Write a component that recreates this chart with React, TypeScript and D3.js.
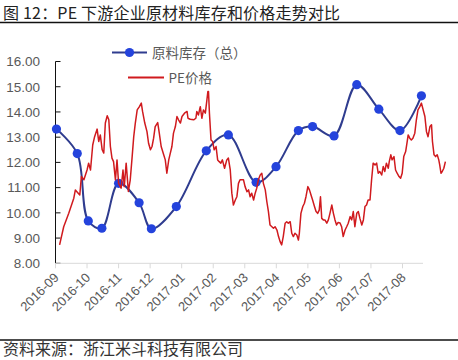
import React from "react";
import * as d3 from "d3";

const monthLabels = ["2016-09","2016-10","2016-11","2016-12","2017-01","2017-02","2017-03","2017-04","2017-05","2017-06","2017-07","2017-08"];
const yTicks = [8, 9, 10, 11, 12, 13, 14, 15, 16];

// inventory (blue): position in months since 2016-09, value
const invPos = [0.03, 0.69, 1.04, 1.47, 2.0, 2.65, 3.04, 3.83, 4.78, 5.48, 6.36, 6.99, 7.7, 8.15, 8.83, 9.55, 10.25, 10.92, 11.6];
const invVal = [13.32, 12.35, 9.68, 9.39, 11.17, 10.40, 9.37, 10.25, 12.46, 13.09, 11.21, 11.83, 13.26, 13.42, 13.05, 15.08, 14.11, 13.26, 14.64];

// PE price (red): position in months, value
const pePos = [0.13,0.26,0.42,0.58,0.63,0.72,0.77,0.82,0.90,1.00,1.05,1.11,1.18,1.24,1.32,1.37,1.42,1.48,1.53,1.58,1.64,1.69,1.74,1.79,1.84,1.90,1.95,2.00,2.08,2.14,2.18,2.24,2.31,2.37,2.43,2.48,2.53,2.59,2.66,2.72,2.76,2.83,2.90,2.95,3.01,3.06,3.11,3.16,3.24,3.29,3.35,3.43,3.48,3.53,3.59,3.64,3.69,3.74,3.80,3.85,3.90,3.96,4.01,4.09,4.17,4.20,4.27,4.38,4.45,4.48,4.53,4.59,4.64,4.69,4.75,4.80,4.83,4.85,4.88,4.93,4.98,5.03,5.09,5.14,5.19,5.24,5.29,5.36,5.43,5.48,5.54,5.59,5.64,5.70,5.75,5.80,5.85,5.96,6.01,6.07,6.12,6.17,6.22,6.28,6.33,6.38,6.43,6.49,6.54,6.59,6.65,6.70,6.75,6.80,6.86,6.91,6.96,7.02,7.07,7.12,7.17,7.22,7.28,7.33,7.38,7.44,7.49,7.54,7.59,7.65,7.70,7.73,7.78,7.84,7.89,7.94,8.00,8.05,8.10,8.15,8.21,8.26,8.31,8.36,8.40,8.44,8.49,8.54,8.60,8.65,8.70,8.76,8.81,8.86,8.91,8.96,9.02,9.07,9.12,9.18,9.23,9.28,9.34,9.39,9.44,9.49,9.55,9.60,9.65,9.71,9.76,9.81,9.86,9.91,9.97,10.02,10.07,10.13,10.18,10.23,10.28,10.34,10.39,10.44,10.49,10.55,10.58,10.63,10.67,10.73,10.78,10.83,10.89,10.94,10.99,11.04,11.10,11.15,11.18,11.23,11.28,11.33,11.39,11.44,11.49,11.55,11.60,11.71,11.76,11.81,11.87,11.92,11.95,12.00,12.05,12.10,12.15,12.18,12.22,12.26,12.31,12.36];
const peVal = [8.73,9.45,9.98,10.58,10.91,10.78,10.71,11.44,11.31,11.7,11.97,11.7,12.69,13.02,13.32,12.83,13.09,12.5,12.37,13.56,13.85,13.69,12.63,12.17,12.03,11.31,12.1,11.17,10.98,11.7,11.04,11.97,10.85,11.31,12.23,13.02,13.56,14.08,14.21,14.35,14.02,13.56,13.22,12.76,12.5,12.63,12.96,13.42,13.58,13.16,12.63,12.3,12.1,11.57,12.1,12.37,12.63,13.16,13.42,13.82,13.69,13.56,13.82,13.95,14.02,13.75,13.71,13.69,13.75,14.02,13.88,14.21,13.75,14.08,13.95,14.48,14.81,14.81,13.95,12.89,12.83,12.5,12.63,12.1,12.03,11.97,12.1,11.77,12.1,12.17,11.7,10.78,10.31,10.51,10.64,11.17,11.31,11.31,11.04,10.84,10.91,10.64,10.78,10.51,10.78,10.98,11.31,11.5,11.57,11.17,10.91,10.44,10.05,9.52,9.45,9.39,9.45,9.32,9.06,8.86,8.73,9.06,9.59,9.65,9.59,9.65,9.19,9.06,9.19,9.12,8.92,9.19,9.98,10.25,10.38,10.64,11.04,10.91,10.71,10.51,10.25,10.05,9.98,10.11,10.64,9.78,9.72,9.72,9.59,9.72,9.98,10.31,9.98,9.72,9.52,9.62,9.6,9.45,9.06,9.32,9.45,9.59,9.85,9.72,10.05,9.45,9.98,10.05,9.78,9.52,9.72,10.25,10.31,10.51,10.51,11.31,11.97,11.9,11.97,11.57,11.64,11.5,11.84,11.64,11.97,11.77,12.03,12.3,12.1,12.23,11.7,11.57,11.44,11.37,11.57,12.23,12.43,12.83,13.09,12.96,12.89,12.96,13.16,13.69,14.08,14.21,14.35,13.82,13.22,13.02,13.42,13.49,12.83,12.3,12.23,12.3,12.1,11.9,11.57,11.64,11.77,12.03];

const legendInv = "原料库存（总）";
const legendPe = "PE价格";
const title = "图 12：PE 下游企业原材料库存和价格走势对比";
const source = "资料来源：浙江米斗科技有限公司";

export default function App() {
  const W = 458, H = 360;
  const x = d3.scaleLinear().domain([0, 11.65]).range([55.5, 423]);
  const y = d3.scaleLinear().domain([8, 16]).range([263.3, 61.5]);

  const invPts: [number, number][] = invPos.map((p, i) => [p, invVal[i]]);
  const pePts: [number, number][] = pePos.map((p, i) => [p, peVal[i]]);

  const invLine = d3.line<[number, number]>().x(d => x(d[0])).y(d => y(d[1])).curve(d3.curveCatmullRom.alpha(0.5));
  const peLine = d3.line<[number, number]>().x(d => x(d[0])).y(d => y(d[1]));

  const numFont = "'Liberation Sans', Arial, sans-serif";
  const cjkFont = "'Noto Sans CJK SC', sans-serif";
  const blueLine = "#2F3C8F";
  const blueDot = "#2443DC";
  const red = "#D01A1E";

  const monthTicks = monthLabels.map((_, i) => i);

  return (
    <svg width={W} height={H} style={{ position: "absolute", left: 0, top: 0, background: "#fff" }}>
      <rect width={W} height={H} fill="#fff" />
      <text x={3} y={18.5} fontFamily={cjkFont} fontSize={16} letterSpacing={0.2} fill="#222">{title}</text>
      <line x1={0} x2={W} y1={22.5} y2={22.5} stroke="#111" strokeWidth={1.3} />

      {/* y axis */}
      <line x1={x(0)} x2={x(0)} y1={y(16)} y2={y(8)} stroke="#111" strokeWidth={1} />
      {yTicks.map(t => (
        <g key={t}>
          <line x1={x(0)} x2={x(0) + 5} y1={y(t)} y2={y(t)} stroke="#111" strokeWidth={1} />
          <text x={40} y={y(t)} dy="0.36em" textAnchor="end" fontFamily={numFont} fontSize={13.5} fill="#595959">{t.toFixed(2)}</text>
        </g>
      ))}

      {/* x axis */}
      <line x1={x(0)} x2={x(11.65)} y1={y(8)} y2={y(8)} stroke="#d9d9d9" strokeWidth={1} />
      {monthTicks.map(i => (
        <line key={i} x1={x(i)} x2={x(i)} y1={y(8)} y2={y(8) + 5} stroke="#d9d9d9" strokeWidth={1} />
      ))}
      {monthLabels.map((lab, i) => (
        <text key={lab} transform={`translate(${x(i) + 4},${y(8) + 15}) rotate(-45)`} textAnchor="end" fontFamily={numFont} fontSize={13} fill="#595959">{lab}</text>
      ))}

      {/* inventory series */}
      <path d={invLine(invPts) || ""} fill="none" stroke={blueLine} strokeWidth={2} />
      {invPts.map((d, i) => (
        <circle key={i} cx={x(d[0])} cy={y(d[1])} r={4.6} fill={blueDot} />
      ))}

      {/* PE price series */}
      <path d={peLine(pePts) || ""} fill="none" stroke={red} strokeWidth={1.5} strokeLinejoin="round" />

      {/* legend */}
      <line x1={112} x2={147} y1={52.5} y2={52.5} stroke={blueLine} strokeWidth={2} />
      <circle cx={129.5} cy={52.5} r={4.6} fill={blueDot} />
      <text x={152} y={57.5} fontFamily={cjkFont} fontSize={13.5} fill="#595959">{legendInv}</text>
      <line x1={128} x2={164} y1={77.5} y2={77.5} stroke={red} strokeWidth={1.8} />
      <text x={168.5} y={83} fontFamily={cjkFont} fontSize={13.5} fill="#595959">{legendPe}</text>

      <line x1={0} x2={W} y1={340} y2={340} stroke="#111" strokeWidth={1.3} />
      <text x={3} y={355} fontFamily={cjkFont} fontSize={16} fill="#333">{source}</text>
    </svg>
  );
}
